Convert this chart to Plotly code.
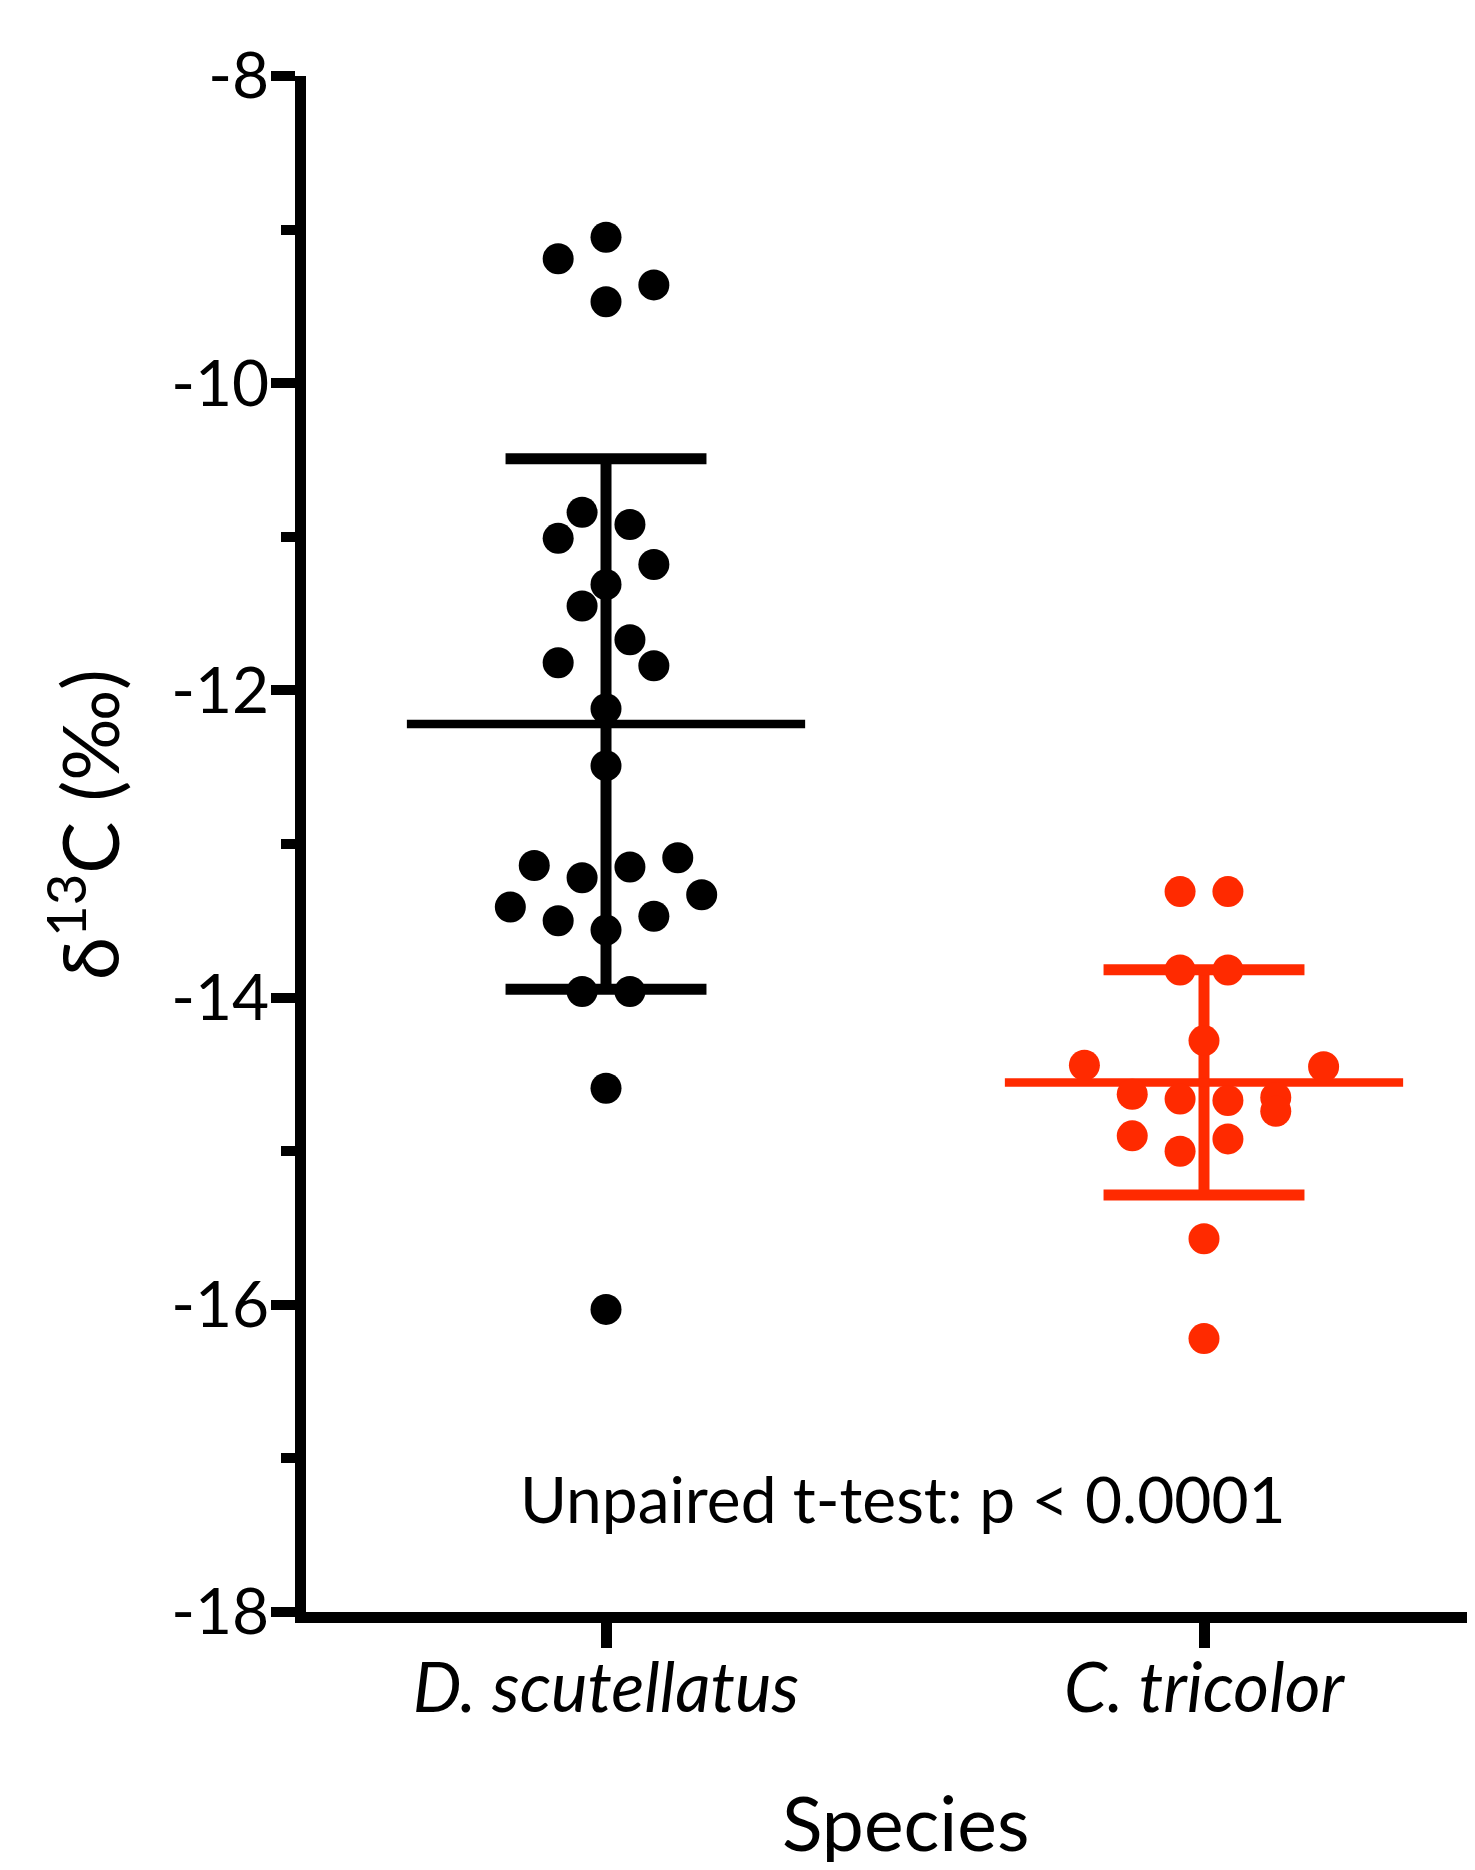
import numpy as np
import plotly.graph_objects as go

# ---------------- data ----------------
species = ["D. scutellatus", "C. tricolor"]
species_labels = ["<i>D. scutellatus</i>", "<i>C. tricolor</i>"]

ds_d13c = [-9.05, -9.19, -9.36, -9.47, -10.84, -10.92, -11.01, -11.18, -11.31,
           -11.45, -11.67, -11.82, -11.84, -12.12, -12.49, -13.09, -13.14, -13.15,
           -13.22, -13.33, -13.41, -13.47, -13.50, -13.56, -13.96, -13.96, -14.59,
           -16.03]
ds_slot = [0, -2, 2, 0, -1, 1, -2, 2, 0, -1, 1, -2, 2, 0, 0, 3, -3, 1, -1, 4, -4,
           2, -2, 0, -1, 1, 0, 0]

ct_d13c = [-13.31, -13.31, -13.82, -13.82, -14.28, -14.44, -14.45, -14.63, -14.65,
           -14.66, -14.67, -14.74, -14.90, -14.92, -15.00, -15.57, -16.22]
ct_slot = [-1, 1, -1, 1, 0, -5, 5, -3, 3, -1, 1, 3, -3, 1, -1, 0, 0]

y_ticks = [-8, -10, -12, -14, -16, -18]
y_ticktext = ["-8", "-10", "-12", "-14", "-16", "-18"]
annotation_text = "Unpaired t-test: p < 0.0001"

# ---------------- styling ----------------
FONT = "Lato"
BLACK = "#000000"
RED = "#FF2A00"
SLOT_STEP = 0.04
MEAN_HALF = 0.333
CAP_HALF = 0.168

groups = [
    (0, ds_d13c, ds_slot, BLACK),
    (1, ct_d13c, ct_slot, RED),
]

fig = go.Figure()

for cx, vals, slots, col in groups:
    v = np.array(vals)
    m = v.mean()
    sd = v.std(ddof=1)
    # SD whisker + caps
    fig.add_trace(go.Scatter(
        x=[cx, cx, None, cx - CAP_HALF, cx + CAP_HALF, None, cx - CAP_HALF, cx + CAP_HALF],
        y=[m - sd, m + sd, None, m + sd, m + sd, None, m - sd, m - sd],
        mode="lines", line=dict(color=col, width=11), showlegend=False,
        hoverinfo="skip"))
    # mean line
    fig.add_trace(go.Scatter(
        x=[cx - MEAN_HALF, cx + MEAN_HALF], y=[m, m],
        mode="lines", line=dict(color=col, width=8.5), showlegend=False,
        hoverinfo="skip"))

for cx, vals, slots, col in groups:
    fig.add_trace(go.Scatter(
        x=[cx + s * SLOT_STEP for s in slots], y=vals,
        mode="markers", marker=dict(color=col, size=31, line=dict(width=0)),
        showlegend=False))

fig.add_annotation(
    x=0.497, y=-17.26, xref="x", yref="y", text=annotation_text,
    showarrow=False, font=dict(family=FONT, size=64, color=BLACK),
    xanchor="center", yanchor="middle")

# y-axis title
fig.add_annotation(
    x=-0.1912, y=0.5124, xref="paper", yref="paper",
    text="δ<sup>13</sup>C (‰)", textangle=-90, showarrow=False,
    font=dict(family=FONT, size=78, color=BLACK),
    xanchor="center", yanchor="middle")

# x-axis title
fig.add_annotation(
    x=0.5164, y=-0.1367, xref="paper", yref="paper",
    text="Species", showarrow=False,
    font=dict(family=FONT, size=75, color=BLACK),
    xanchor="center", yanchor="middle")

fig.update_layout(
    width=1459, height=1854,
    margin=dict(l=298, r=0, t=68, b=250),
    plot_bgcolor="white", paper_bgcolor="white",
    font=dict(family=FONT, color=BLACK),
    showlegend=False,
    xaxis=dict(
        range=[-0.5017, 1.4398], tickvals=[0, 1], ticktext=species_labels,
        showgrid=False, zeroline=False, showline=True, linecolor=BLACK,
        linewidth=11, ticks="outside", ticklen=25, tickwidth=11,
        tickcolor=BLACK, ticklabelstandoff=-19,
        tickfont=dict(family=FONT, size=69, color=BLACK)),
    yaxis=dict(
        range=[-18, -8], tickvals=y_ticks, ticktext=y_ticktext,
        showgrid=False, zeroline=False,
        showline=True, linecolor=BLACK, linewidth=11, ticks="outside",
        ticklen=24, tickwidth=10, tickcolor=BLACK, ticklabelstandoff=-11,
        tickfont=dict(family=FONT, size=64, color=BLACK),
        minor=dict(dtick=1, tick0=-9, ticks="outside", ticklen=14,
                   tickwidth=10, tickcolor=BLACK, showgrid=False)),
)

fig.write_html("out.html")
